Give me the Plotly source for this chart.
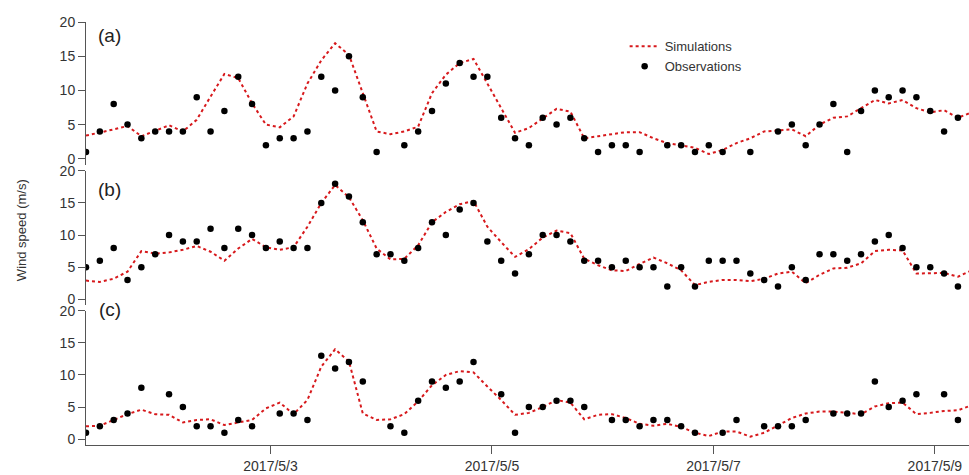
import pandas as pd
import plotly.graph_objects as go

# Observation/simulation times: every 3 h from 2017-05-01 08:00
times = pd.date_range("2017-05-01 08:00", periods=65, freq="3h")

obs_a = [1, 4, 8, 5, 3, 4, 4, 4, 9, 4, 7, 12, 8, 2, 3, 3, 4, 12, 10, 15, 9, 1, None, 2, 4, 7, 11, 14,
         12, 12, 6, 3, 2, 6, 5, 6, 3, 1, 2, 2, 1, None, 2, 2, 1, 2, 1, None, 1, None, 4, 5, 2, 5, 8,
         1, 7, 10, 9, 10, 9, 7, 4, 6]
sim_a = [3.4, 3.8, 4.3, 4.8, 3.3, 4.1, 4.9, 4.0, 5.7, 9.1, 12.4, 11.8, 8.1, 5.0, 4.6, 6.2, 11.0, 14.4,
         16.9, 15.2, 9.6, 4.0, 3.6, 4.0, 4.7, 9.6, 12.3, 14.0, 14.6, 11.0, 7.6, 3.8, 4.5, 5.9, 7.3, 6.9,
         3.0, 3.3, 3.6, 3.9, 3.9, 3.0, 2.3, 2.0, 1.6, 0.7, 1.3, 2.3, 3.0, 4.0, 4.2, 4.3, 3.3, 5.0, 6.0,
         6.2, 7.4, 8.6, 8.1, 8.6, 7.4, 6.8, 7.1, 6.0, 6.8]

obs_b = [5, 6, 8, 3, 5, 7, 10, 9, 9, 11, 8, 11, 10, 8, 9, 8, 8, 15, 18, 16, 12, 7, 7, 6, 8, 12, 10, 14,
         15, 9, 6, 4, 7, 10, 10, 9, 6, 6, 5, 6, 5, 5, 2, 5, 2, 6, 6, 6, 4, 3, 2, 5, 3, 7, 7, 6, 7, 9,
         10, 8, 5, 5, 4, 2]
sim_b = [2.9, 2.7, 3.2, 4.3, 7.5, 7.1, 7.3, 7.7, 8.3, 7.4, 6.0, 7.9, 9.4, 8.1, 7.7, 8.1, 11.3, 15.0,
         17.8, 15.9, 12.3, 7.9, 6.2, 6.3, 8.4, 12.0, 13.6, 14.8, 15.3, 11.3, 8.9, 6.6, 7.8, 9.6, 10.7,
         10.3, 6.3, 5.3, 4.5, 4.4, 5.5, 6.5, 5.6, 4.5, 2.2, 2.7, 3.0, 3.0, 2.8, 3.2, 4.0, 4.3, 2.5, 3.8,
         4.8, 4.9, 5.6, 7.5, 7.7, 7.6, 4.0, 4.0, 4.1, 3.5, 4.5]

obs_c = [1, 2, 3, 4, 8, None, 7, 5, 2, 2, 1, 3, 2, None, 4, 4, 3, 13, 11, 12, 9, None, 2, 1, 6, 9, 8,
         9, 12, None, 7, 1, 5, 5, 6, 6, 5, None, 3, 3, 2, 3, 3, 2, 1, None, 1, 3, None, 2, 2, 2, 3,
         None, 4, 4, 4, 9, 5, 6, 7, None, 7, 3]
sim_c = [2.0, 2.1, 3.0, 3.9, 4.6, 3.9, 3.8, 2.6, 3.0, 3.1, 2.2, 2.6, 3.0, 4.8, 5.7, 3.9, 6.1, 11.3,
         14.0, 12.1, 4.0, 3.0, 3.1, 3.9, 5.9, 8.4, 10.0, 10.6, 10.4, 8.2, 6.1, 3.8, 4.1, 5.0, 6.1, 5.7,
         3.1, 3.8, 3.9, 3.3, 2.4, 2.1, 2.4, 1.9, 1.0, 0.5, 1.2, 1.2, 0.4, 1.0, 2.2, 3.3, 4.0, 4.3, 4.3,
         4.1, 3.9, 5.1, 5.6, 5.7, 3.9, 4.1, 4.4, 4.5, 5.3]

panel_labels = ["(a)", "(b)", "(c)"]
x_tickvals = ["2017-05-03", "2017-05-05", "2017-05-07", "2017-05-09"]
x_ticktext = ["2017/5/3", "2017/5/5", "2017/5/7", "2017/5/9"]
y_ticks = [0, 5, 10, 15, 20]

FONT = "Arial, Liberation Sans, sans-serif"
RED = "#d7191c"

fig = go.Figure()
series = [(obs_a, sim_a, "y"), (obs_b, sim_b, "y2"), (obs_c, sim_c, "y3")]
for k, (obs, sim, ya) in enumerate(series):
    fig.add_trace(go.Scatter(x=times, y=sim, yaxis=ya, xaxis="x", mode="lines",
                             line=dict(color=RED, width=2, dash="dot"), name="Simulations",
                             showlegend=(k == 0)))
    fig.add_trace(go.Scatter(x=times[:len(obs)], y=obs, yaxis=ya, xaxis="x", mode="markers",
                             marker=dict(color="black", size=6.5), name="Observations",
                             showlegend=(k == 0)))

yax = dict(range=[-0.9, 20], tickvals=y_ticks, showline=True, linecolor="#555", linewidth=1,
           ticks="outside", ticklen=7, tickcolor="#555", showgrid=False, zeroline=False,
           tickfont=dict(size=14, color="#333", family=FONT), anchor="x")

fig.update_layout(
    width=969, height=475,
    margin=dict(l=86, r=0, t=22, b=30),
    paper_bgcolor="white", plot_bgcolor="white",
    font=dict(family=FONT, color="#333"),
    xaxis=dict(range=["2017-05-01 08:00", "2017-05-09 07:24"], tickvals=x_tickvals,
               ticktext=x_ticktext, showline=True, linecolor="#555", linewidth=1,
               ticks="outside", ticklen=8, tickcolor="#555", showgrid=False, zeroline=False,
               anchor="y3", tickfont=dict(size=14, color="#333", family=FONT)),
    yaxis=dict(yax, domain=[0.662, 1.0]),
    yaxis2=dict(yax, domain=[0.331, 0.648]),
    yaxis3=dict(yax, domain=[0.0, 0.3175]),
    legend=dict(x=0.61, y=0.978, xanchor="left", yanchor="top", bgcolor="rgba(0,0,0,0)",
                font=dict(size=13, color="#333", family=FONT), tracegroupgap=0,
                itemwidth=30),
    showlegend=True,
)

label_y = [0.967, 0.603, 0.3215]
for lab, ly in zip(panel_labels, label_y):
    fig.add_annotation(text=lab, xref="paper", yref="paper", x=0.027, y=ly, xanchor="center",
                       yanchor="middle", showarrow=False,
                       font=dict(size=19, color="#222", family=FONT))

fig.add_annotation(text="Wind speed (m/s)", xref="paper", yref="paper", x=-0.0736, y=0.508,
                   xanchor="center", yanchor="middle", textangle=-90, showarrow=False,
                   font=dict(size=13, color="#333", family=FONT))

fig.write_html("out.html", config={"displayModeBar": False},
               post_script="document.body.style.margin='0';document.body.style.padding='0';")
